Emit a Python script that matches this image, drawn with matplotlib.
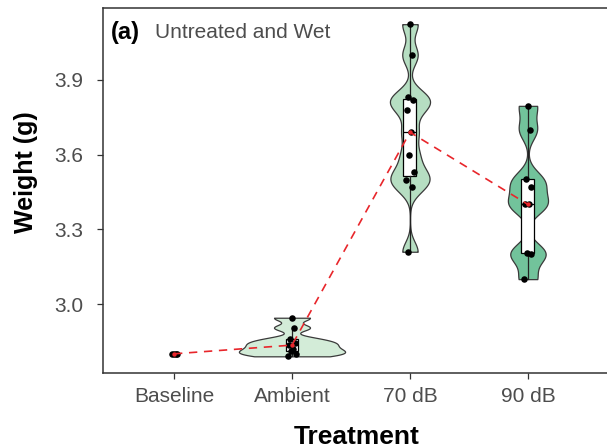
import numpy as np
import matplotlib.pyplot as plt

plt.rcParams['font.family'] = ['Liberation Sans', 'DejaVu Sans']

treatments = ['Baseline', 'Ambient', '70 dB', '90 dB']
baseline = [2.80, 2.80, 2.80, 2.80]
ambient = [2.945, 2.905, 2.86, 2.845, 2.835, 2.82, 2.81, 2.80, 2.79]
db70 = [4.124, 4.0, 3.83, 3.82, 3.78, 3.69, 3.60, 3.53, 3.50, 3.47, 3.21]
db90 = [3.796, 3.70, 3.504, 3.472, 3.40, 3.40, 3.204, 3.20, 3.10]
groups = [baseline, ambient, db70, db90]

fills = [None, '#d3ecd8', '#b6dec2', '#72c39b']
bandwidths = [None, 0.013, 0.04, 0.04]
half_widths = [0, 0.45, 0.17, 0.17]
positions = np.arange(1, len(treatments) + 1)

fig = plt.figure(figsize=(6.07, 4.48), dpi=100)
ax = fig.add_axes([103 / 607, 75 / 448, 504 / 607, 365 / 448])

# violins (gaussian kde, trimmed to the data range)
for pos, vals, fc, bw, hw in zip(positions, groups, fills, bandwidths, half_widths):
    if fc is None:
        continue
    v = np.asarray(vals)
    grid = np.linspace(v.min(), v.max(), 400)
    dens = np.exp(-0.5 * ((grid[:, None] - v[None, :]) / bw) ** 2).sum(axis=1)
    dens = dens / dens.max() * hw
    ax.fill_betweenx(grid, pos - dens, pos + dens, facecolor=fc,
                     edgecolor='#3a3a3a', linewidth=0.9, zorder=1)

# boxplots (no baseline box, all values identical)
ax.boxplot(groups[1:], positions=positions[1:], widths=0.11, patch_artist=True,
           showfliers=False, showcaps=False, manage_ticks=False,
           boxprops=dict(facecolor='white', edgecolor='black', linewidth=0.9),
           whiskerprops=dict(color='#222222', linewidth=0.9),
           medianprops=dict(color='black', linewidth=0.9), zorder=2)

# jittered raw points
offsets = np.array([0.0, 0.02, -0.015, 0.025, -0.025, 0.01, -0.01, 0.03, -0.03, 0.015, -0.02, 0.005])
for pos, vals in zip(positions, groups):
    xs = pos + offsets[:len(vals)]
    ax.scatter(xs, vals, s=22, color='black', linewidths=0, zorder=4)

# group medians joined by a dashed line
medians = [np.median(g) for g in groups]
ax.plot(positions, medians, linestyle=(0, (5, 4)), color='#e8262b', linewidth=1.2, zorder=5)
ax.scatter(positions, medians, s=10, color='#e8262b', linewidths=0, zorder=6)

ax.set_xlim(0.398, 4.67)
ax.set_ylim(2.723, 4.189)
ax.set_xticks(positions)
ax.set_xticklabels(treatments)
ax.set_yticks([3.0, 3.3, 3.6, 3.9])
ax.set_yticklabels(['3.0', '3.3', '3.6', '3.9'])
ax.tick_params(direction='out', length=4, width=0.9, color='#333333',
               labelcolor='#4d4d4d', labelsize=15)
ax.tick_params(axis='y', pad=10)
ax.tick_params(axis='x', pad=6)
ax.spines['right'].set_visible(False)
for side in ['left', 'bottom', 'top']:
    ax.spines[side].set_color('#333333')
    ax.spines[side].set_linewidth(1.1)

fig.text(357 / 607, 1 - 437 / 448, 'Treatment', ha='center', va='center',
         fontsize=19, fontweight='bold', color='black')
fig.text(26 / 607, 1 - 172 / 448, 'Weight (g)', ha='center', va='center',
         rotation=90, fontsize=18, fontweight='bold', color='black')
fig.text(111 / 607, 1 - 33 / 448, '(a)', ha='left', va='center',
         fontsize=17, fontweight='bold', color='black')
fig.text(155 / 607, 1 - 33 / 448, 'Untreated and Wet', ha='left', va='center',
         fontsize=15, color='#4d4d4d')

fig.savefig('out.png', dpi=100)
